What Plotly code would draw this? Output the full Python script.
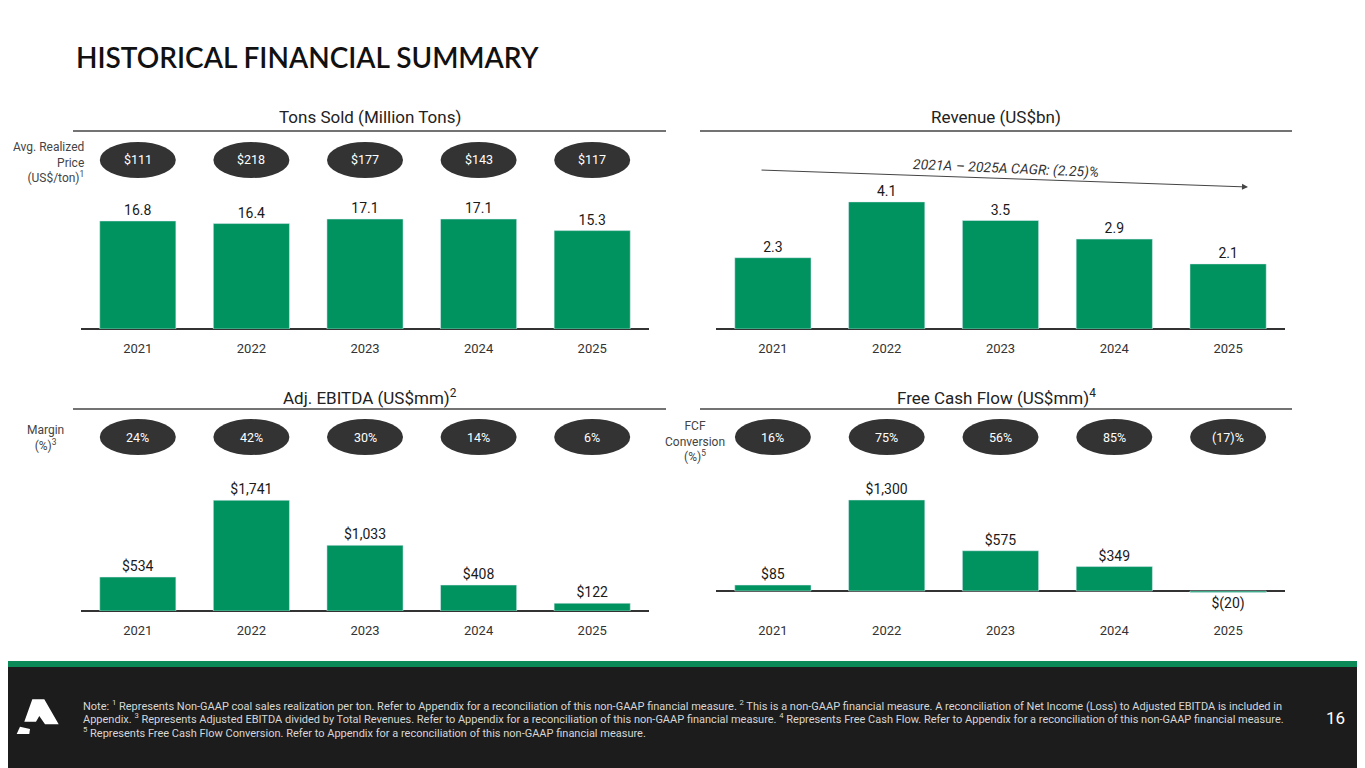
import plotly.graph_objects as go

# --- Data ---
years = ["2021", "2022", "2023", "2024", "2025"]
tons_sold = [16.8, 16.4, 17.1, 17.1, 15.3]
avg_price = ["$111", "$218", "$177", "$143", "$117"]
revenue = [2.3, 4.1, 3.5, 2.9, 2.1]
adj_ebitda = [534, 1741, 1033, 408, 122]
ebitda_margin = ["24%", "42%", "30%", "14%", "6%"]
free_cash_flow = [85, 1300, 575, 349, -20]
fcf_conversion = ["16%", "75%", "56%", "85%", "(17)%"]
cagr_label = "2021A – 2025A CAGR: (2.25)%"

W, H = 1365, 768
OFF = 8  # the page body adds an 8px margin, so shift everything back by it
GREEN = "#00935F"
PILL = "#333333"
FONT = "Roboto"


def px(x):
    return (x - OFF) / W


def py(y):
    return 1 - (y - OFF) / H


def money(v):
    return f"${v:,.0f}" if v >= 0 else f"$({-v:,.0f})"


def label(text, x, y, size=12, color="#444", xanchor="center", yanchor="middle", **kw):
    return dict(text=text, x=px(x), y=py(y), xref="paper", yref="paper", showarrow=False,
                xanchor=xanchor, yanchor=yanchor, font=dict(family=kw.pop("family", FONT), size=size,
                                                            color=color, weight=kw.pop("weight", None)), **kw)


# --- Panels: x-pixel span, y-pixel span (bottom, top), y range ---
panels = [
    dict(y=tons_sold, text=[f"{v:.1f}" for v in tons_sold], xs=(81, 649), ys=(329, 200.4), rng=[0, 20],
         title="Tons Sold (Million Tons)", pills=avg_price),
    dict(y=revenue, text=[f"{v:.1f}" for v in revenue], xs=(716, 1285), ys=(329, 174), rng=[0, 5],
         title="Revenue (US$bn)", pills=None),
    dict(y=adj_ebitda, text=[money(v) for v in adj_ebitda], xs=(81, 649), ys=(611, 483.8), rng=[0, 2000],
         title="Adj. EBITDA (US$mm)<sup>2</sup>", pills=ebitda_margin),
    dict(y=free_cash_flow, text=[money(v) for v in free_cash_flow], xs=(716, 1285), ys=(611, 486),
         rng=[-285.7, 1500], title="Free Cash Flow (US$mm)<sup>4</sup>", pills=fcf_conversion),
]

fig = go.Figure()
shapes, annotations = [], []
layout = {}

for i, p in enumerate(panels):
    n = "" if i == 0 else str(i + 1)
    fig.add_trace(go.Bar(
        x=years, y=p["y"], text=p["text"], textposition="outside", cliponaxis=False,
        marker_color=GREEN, width=0.67, xaxis="x" + n, yaxis="y" + n,
        textfont=dict(family=FONT, size=14, color="#1a1a1a"), showlegend=False,
    ))
    layout["xaxis" + n] = dict(
        domain=[px(p["xs"][0]), px(p["xs"][1])], anchor="y" + n, type="category",
        showline=False, showgrid=False, zeroline=False, ticks="", ticklabelstandoff=10,
        tickfont=dict(family=FONT, size=13, color="#333"), fixedrange=True,
    )
    layout["yaxis" + n] = dict(
        domain=[py(p["ys"][0]), py(p["ys"][1])], anchor="x" + n, range=p["rng"],
        showgrid=False, showticklabels=False, zeroline=True, zerolinecolor="#333",
        zerolinewidth=1.5, fixedrange=True,
    )

    # section header with rule underneath
    top = i < 2
    hx0, hx1 = (73, 666) if i % 2 == 0 else (700, 1292)
    ty, ly = (117, 131) if top else (397, 409)
    annotations.append(label(p["title"], (hx0 + hx1) / 2, ty, size=17, color="#222"))
    shapes.append(dict(type="line", xref="paper", yref="paper", x0=px(hx0), x1=px(hx1), y0=py(ly), y1=py(ly),
                       line=dict(color="#444", width=1.5)))

    # dark pills above the bars
    if p["pills"]:
        cy = 160 if top else 437
        step = (p["xs"][1] - p["xs"][0]) / len(years)
        for j, lab in enumerate(p["pills"]):
            cx = p["xs"][0] + (j + 0.5) * step
            shapes.append(dict(type="circle", xref="paper", yref="paper", x0=px(cx - 38), x1=px(cx + 38),
                               y0=py(cy + 18), y1=py(cy - 18), fillcolor=PILL, line=dict(width=0)))
            annotations.append(label(lab, cx, cy, size=12.5, color="white"))

# row labels on the left of the pills
annotations += [
    label("Avg. Realized<br>Price<br>(US$/ton)<sup>1</sup>", 86, 162, xanchor="right", align="right"),
    label("Margin<br>(%)<sup>3</sup>", 66, 438, xanchor="right", align="center"),
    label("FCF<br>Conversion<br>(%)<sup>5</sup>", 695, 441, align="center"),
]

# CAGR arrow on the revenue panel
annotations += [
    dict(text="", x=px(1248), y=py(187), xref="paper", yref="paper", ax=-488, ay=-17, showarrow=True,
         arrowhead=2, arrowsize=1.2, arrowwidth=1, arrowcolor="#444"),
    label("<i>" + cagr_label + "</i>", 1006, 168, size=14, color="#333", textangle=2.5),
]

# page title
annotations.append(label("HISTORICAL FINANCIAL SUMMARY", 74, 57, size=28, color="#111", xanchor="left",
                         family="Lato", weight=600))

# footer band
shapes += [
    dict(type="rect", xref="paper", yref="paper", x0=0, x1=1, y0=0, y1=py(667), fillcolor="#1c1c1c",
         line=dict(width=0), layer="below"),
    dict(type="rect", xref="paper", yref="paper", x0=0, x1=1, y0=py(667), y1=py(661), fillcolor="#0B8A57",
         line=dict(width=0)),
]
logo_main = [(32.3, 699.3), (44.3, 699.3), (58.7, 724.3), (45, 724.3), (39.3, 716), (36, 721.7), (24.3, 721.7)]
logo_tip = [(20, 726.7), (30, 729), (29.3, 734), (16.7, 734)]
for poly in (logo_main, logo_tip):
    path = "M " + " L ".join(f"{px(a):.5f},{py(b):.5f}" for a, b in poly) + " Z"
    shapes.append(dict(type="path", path=path, xref="paper", yref="paper", fillcolor="white", line=dict(width=0)))

notes = [
    "Note: <sup>1</sup> Represents Non-GAAP coal sales realization per ton. Refer to Appendix for a reconciliation of this non-GAAP financial measure. "
    "<sup>2</sup> This is a non-GAAP financial measure. A reconciliation of Net Income (Loss) to Adjusted EBITDA is included in",
    "Appendix. <sup>3</sup> Represents Adjusted EBITDA divided by Total Revenues. Refer to Appendix for a reconciliation of this non-GAAP financial measure. "
    "<sup>4</sup> Represents Free Cash Flow. Refer to Appendix for a reconciliation of this non-GAAP financial measure.",
    "<sup>5</sup> Represents Free Cash Flow Conversion. Refer to Appendix for a reconciliation of this non-GAAP financial measure.",
]
for k, line in enumerate(notes):
    annotations.append(label(line, 81, 705 + 13.5 * k, size=11, color="#d6d6d6", xanchor="left"))
annotations.append(label("16", 1335, 718, size=17, color="white"))

fig.update_layout(
    width=W, height=H, margin=dict(l=0, r=0, t=0, b=0),
    paper_bgcolor="white", plot_bgcolor="white",
    shapes=shapes, annotations=annotations, bargap=0.33, **layout,
)

fig.write_html("out.html")
